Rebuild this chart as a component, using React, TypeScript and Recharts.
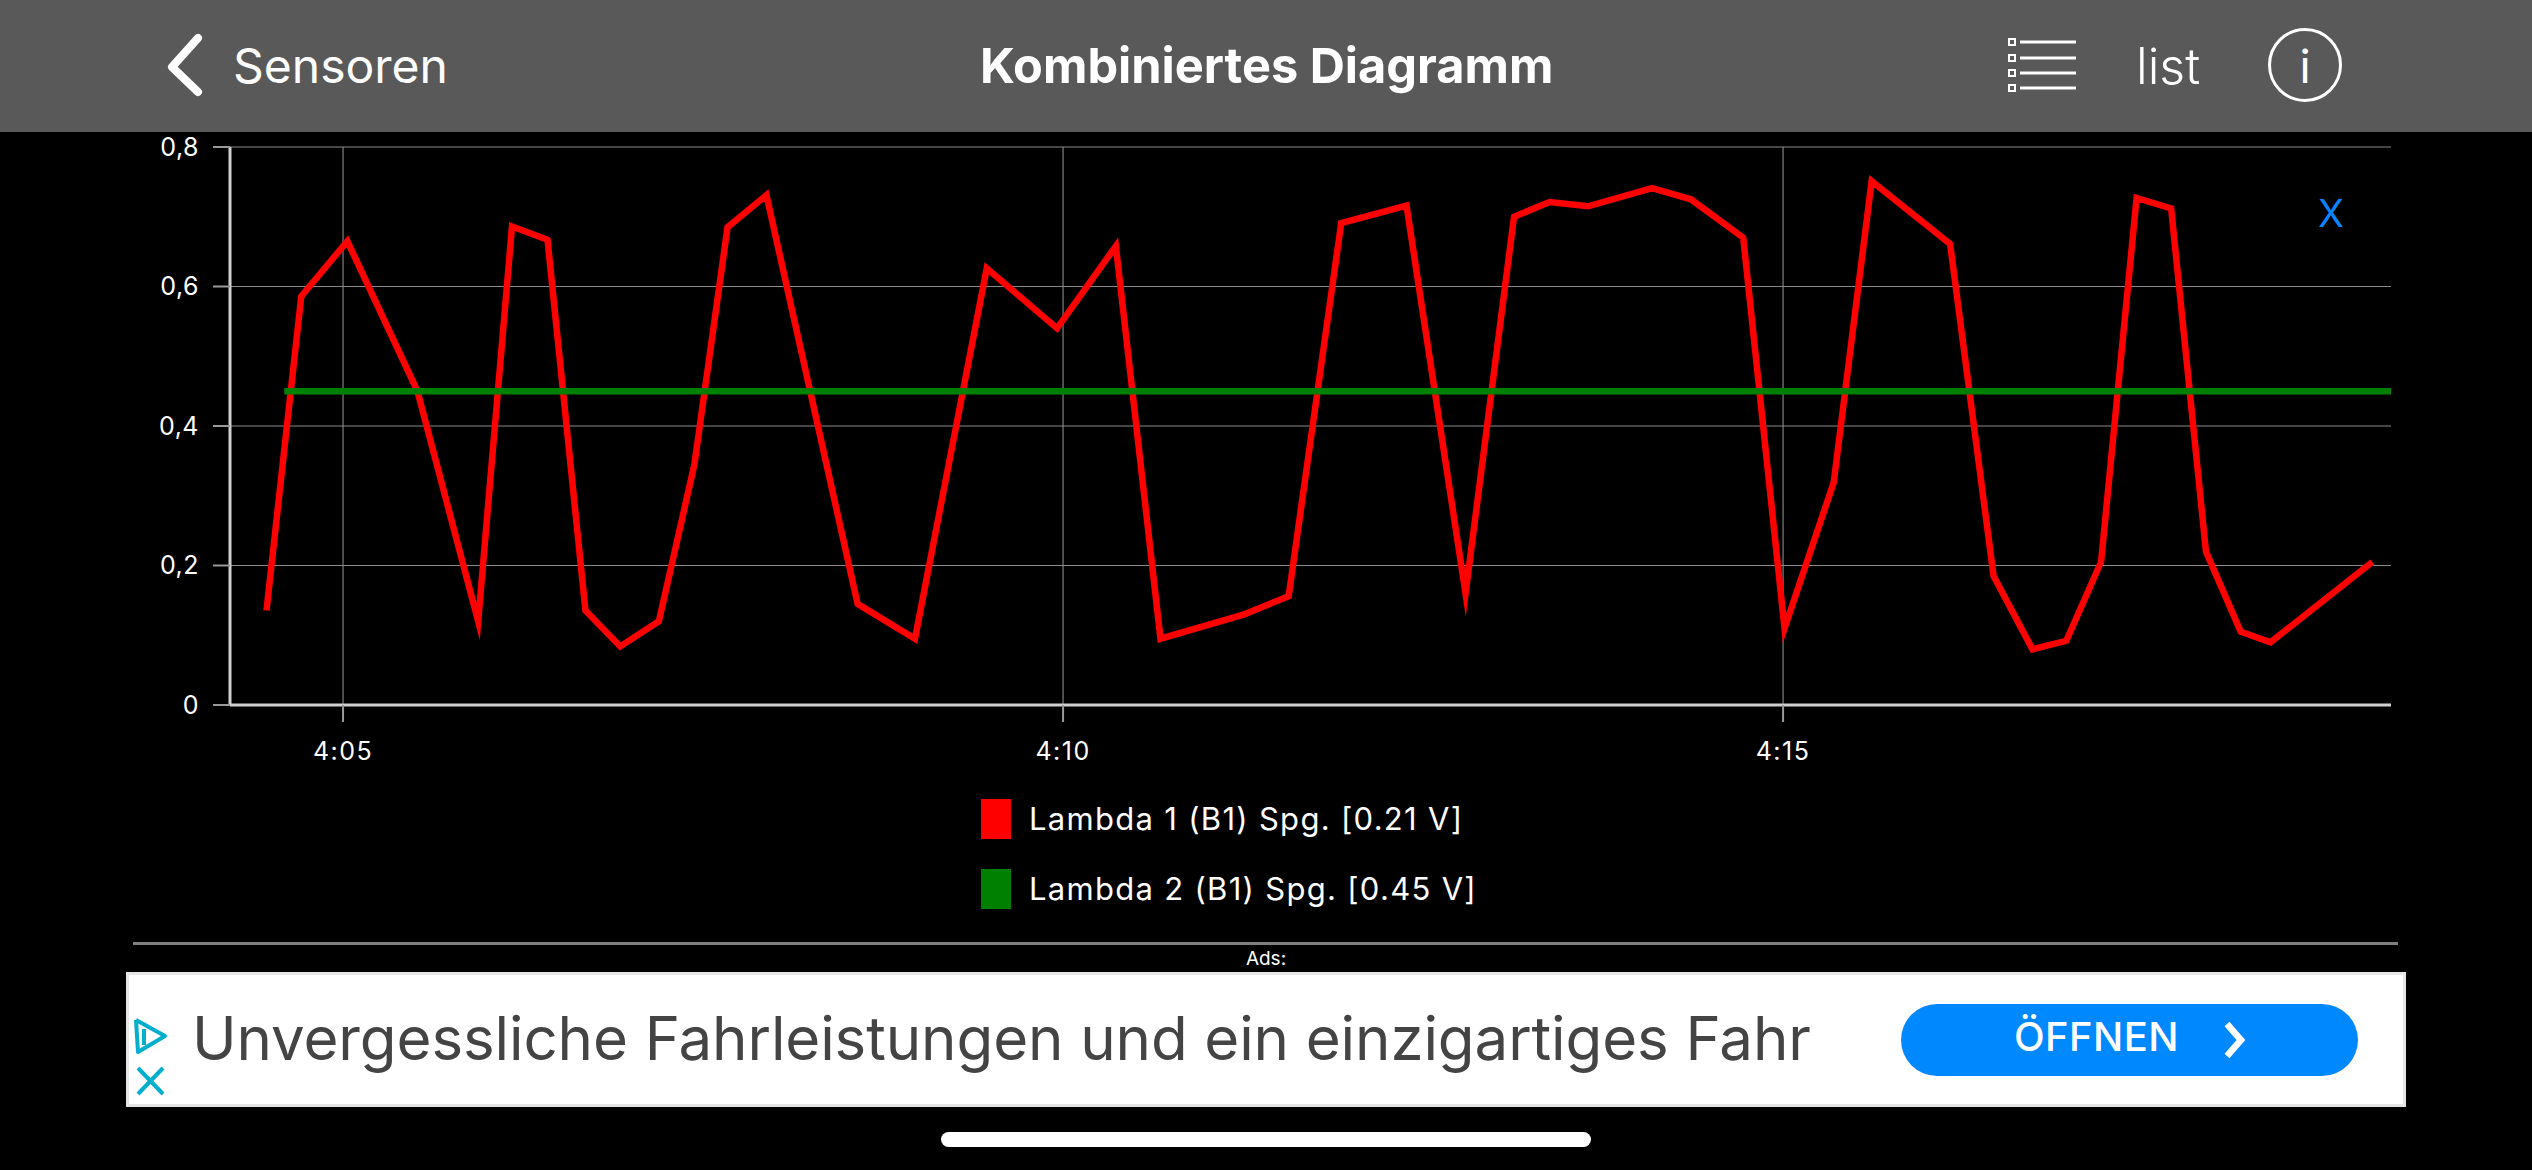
import React from "react";
import { LineChart, Line, XAxis, YAxis, CartesianGrid, Legend } from "recharts";

const times = [268.1,282.6,301.8,331.0,356.3,370.4,385.2,401.0,415.5,431.6,446.4,460.2,476.4,514.4,538.3,568.2,597.5,622.0,640.6,675.5,694.0,715.9,743.1,767.7,787.9,802.7,818.8,845.4,861.6,883.4,900.6,921.1,936.9,969.6,987.7,1003.9,1018.0,1032.5,1047.3,1061.7,1076.2,1090.7,1103.1,1145.5];
const lambda1 = [0.1355,0.586,0.665,0.45,0.12,0.686,0.667,0.1355,0.084,0.12,0.345,0.685,0.731,0.145,0.095,0.626,0.54,0.658,0.095,0.13,0.156,0.691,0.716,0.16,0.70,0.721,0.715,0.741,0.725,0.67,0.11,0.319,0.751,0.661,0.185,0.08,0.092,0.205,0.727,0.712,0.22,0.105,0.09,0.205];
const lambda2Times = [275.5, 1153.3];
const lambda2 = [0.45, 0.45];
const yTicks = [0, 0.2, 0.4, 0.6, 0.8];
const xTicks = [300, 600, 900];
const xLabels = ["4:05", "4:10", "4:15"];
const name1 = "Lambda 1 (B1) Spg. [0.21 V]";
const name2 = "Lambda 2 (B1) Spg. [0.45 V]";

const data1 = times.map((t, i) => ({ t, v: lambda1[i] }));
const data2 = lambda2Times.map((t, i) => ({ t, v: lambda2[i] }));

const FONT = "Inter, 'Noto Sans', sans-serif";
const box = (left: number, top: number, width: number, height: number, extra: React.CSSProperties = {}): React.CSSProperties => ({ position: "absolute", left, top, width, height, ...extra });
const text = (left: number, cy: number, size: number, color: string, extra: React.CSSProperties = {}): React.CSSProperties => ({ position: "absolute", left, top: cy - size, height: size * 2, lineHeight: `${size * 2}px`, fontSize: size, color, whiteSpace: "nowrap", ...extra });

function LegendContent({ payload }: any) {
  return (
    <div style={{ position: "relative", width: 2532, height: 120, fontFamily: FONT }}>
      {(payload || []).map((p: any, i: number) => (
        <React.Fragment key={p.value}>
          <div style={box(981, 9 + i * 70, 30, 40, { background: p.color })} />
          <div style={text(1029, 29 + i * 70, 31, "#fff", { letterSpacing: 1.3 })}>{p.value}</div>
        </React.Fragment>
      ))}
    </div>
  );
}

export default function App() {
  return (
    <div style={{ position: "absolute", left: 0, top: 0, width: 2532, height: 1170, background: "#000", overflow: "hidden", fontFamily: FONT }}>
      <div style={{ position: "absolute", left: 0, top: 0 }}>
        <LineChart width={2532} height={1170} margin={{ top: 147, right: 141, bottom: 405, left: 0 }}>
          <CartesianGrid stroke="#8a8a8a" strokeWidth={1.1} horizontalValues={yTicks} verticalValues={xTicks} />
          <XAxis
            type="number"
            dataKey="t"
            domain={[252.9, 1153.3]}
            ticks={xTicks}
            height={60}
            allowDataOverflow
            tickFormatter={(v: number) => xLabels[xTicks.indexOf(v)]}
            axisLine={{ stroke: "#d0d0d0", strokeWidth: 3 }}
            tickLine={{ stroke: "#999", strokeWidth: 2 }}
            tickSize={17}
            tickMargin={20}
            tick={{ fill: "#fff", fontSize: 25, fontFamily: FONT, letterSpacing: 1.5 }}
          />
          <YAxis
            type="number"
            domain={[0, 0.8]}
            ticks={yTicks}
            width={230}
            tickFormatter={(v: number) => String(v).replace(".", ",")}
            axisLine={{ stroke: "#d0d0d0", strokeWidth: 3 }}
            tickLine={{ stroke: "#999", strokeWidth: 2 }}
            tickSize={17}
            tickMargin={14}
            tick={{ fill: "#fff", fontSize: 25, fontFamily: FONT, letterSpacing: 0.5 }}
          />
          <Legend layout="vertical" align="center" verticalAlign="middle" content={<LegendContent />} wrapperStyle={{ left: 0, top: 790, width: 2532, height: 120 }} />
          <Line data={data1} dataKey="v" name={name1} stroke="#ff0000" strokeWidth={6.5} dot={false} type="linear" strokeLinejoin="miter" strokeMiterlimit={10} isAnimationActive={false} />
          <Line data={data2} dataKey="v" name={name2} stroke="#008000" strokeWidth={6.5} dot={false} type="linear" isAnimationActive={false} />
        </LineChart>
      </div>

      <div style={text(2318, 213, 38, "#0a84ff")}>X</div>

      {/* header */}
      <div style={box(0, 0, 2532, 132, { background: "#595959" })} />
      <svg style={box(160, 30, 50, 70)} viewBox="0 0 50 70">
        <path d="M38 8 L12 37 L38 62" fill="none" stroke="#fff" strokeWidth="8" strokeLinecap="round" strokeLinejoin="round" />
      </svg>
      <div style={text(233, 66, 48, "#fff")}>Sensoren</div>
      <div style={text(980, 66, 48.7, "#fff", { fontWeight: 700 })}>Kombiniertes Diagramm</div>
      <svg style={box(2000, 34, 84, 62)} viewBox="0 0 84 62">
        {[8, 24, 39, 54].map((y) => (
          <g key={y}>
            <rect x="9" y={y - 3} width="6" height="6" fill="none" stroke="#fff" strokeWidth="2" />
            <line x1="20" y1={y} x2="76" y2={y} stroke="#fff" strokeWidth="3" />
          </g>
        ))}
      </svg>
      <div style={text(2136, 66, 50, "#fff", { fontWeight: 300 })}>list</div>
      <div style={box(2268, 28, 74, 74, { border: "3px solid #fff", borderRadius: "50%", boxSizing: "border-box" })} />
      <div style={{ ...text(2268, 66, 46, "#fff", { fontWeight: 400 }), width: 74, textAlign: "center" }}>i</div>

      {/* footer */}
      <div style={box(133, 942, 2265, 3, { background: "#808080" })} />
      <div style={{ ...text(1166, 959, 19, "#fff"), width: 200, textAlign: "center" }}>Ads:</div>
      <div style={box(126, 972, 2280, 135, { background: "#fff", border: "3px solid #e6e6e6", boxSizing: "border-box" })} />
      <svg style={box(132, 1015, 40, 82)} viewBox="0 0 40 82">
        <path d="M4 5 L33 21 L6 37 L4 5 M12 14 L12 30" fill="none" stroke="#00aecd" strokeWidth="4" strokeLinejoin="round" />
        <path d="M6 53 L31 79 M31 53 L6 79" fill="none" stroke="#00aecd" strokeWidth="4" />
      </svg>
      <div style={text(192, 1038, 60, "#444", { letterSpacing: -0.1 })}>Unvergessliche Fahrleistungen und ein einzigartiges Fahr</div>
      <div style={box(1901, 1004, 457, 72, { background: "#0088ff", borderRadius: 36 })} />
      <div style={text(2014, 1037, 40, "#fff", { fontWeight: 500, letterSpacing: 0.4 })}>ÖFFNEN</div>
      <svg style={box(2220, 1020, 30, 40)} viewBox="0 0 30 40">
        <path d="M7 4 L21 20 L7 36" fill="none" stroke="#fff" strokeWidth="6.5" />
      </svg>
      <div style={box(941, 1132, 650, 15, { background: "#fff", borderRadius: 8 })} />
    </div>
  );
}
